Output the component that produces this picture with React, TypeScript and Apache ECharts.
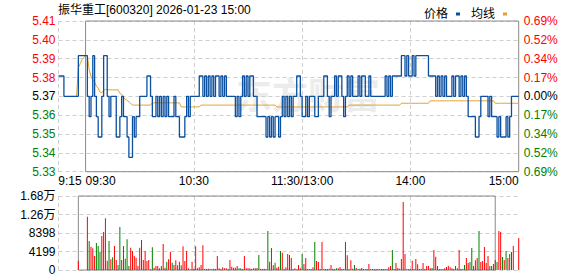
import React, { useEffect, useRef } from 'react';
import * as echarts from 'echarts';

const TITLE = '振华重工[600320] 2026-01-23 15:00';
const WATERMARK = '东方财富';
const PRE_CLOSE = 5.37;
const LIMIT_PCT = 0.0069;
const PRICE_MIN = PRE_CLOSE * (1 - LIMIT_PCT);
const PRICE_MAX = PRE_CLOSE * (1 + LIMIT_PCT);

const priceTickLabels = ['5.33', '5.34', '5.35', '5.36', '5.37', '5.38', '5.39', '5.40', '5.41'];
const pctTickLabels = ['0.69%', '0.52%', '0.34%', '0.17%', '0.00%', '0.17%', '0.34%', '0.52%', '0.69%'];
const VOL_MAX = 16796;
const VOL_STEP = 4199;

const xLabelTimes = ['09:15', '09:30', '10:30', '11:30', '14:00', '15:00'];
const xLabelTexts = ['9:15', '09:30', '10:30', '11:30/13:00', '14:00', '15:00'];
const xGridTimes = ['09:15', '10:30', '11:30', '14:00'];

// call auction 09:15 - 09:29
const auctionPrice = [5.38, 5.38, 5.38, 5.37, 5.37, 5.37, 5.37, 5.37, 5.37, 5.37, 5.37, 5.39, 5.39, 5.39, 5.39];
const auctionAvg = [null, null, null, null, null, null, null, null, null, null, 5.37, 5.384, 5.386, 5.388, 5.389];
const auctionVolume = [0, 0, 0, 0, 0, 0, 0, 0, 0, 0, 0, 2118, 0, 0, 0];
const auctionVolumeUp = [1, 1, 1, 1, 1, 1, 1, 1, 1, 1, 1, 1, 1, 1, 1];

// 09:30 - 11:30, 13:01 - 15:00 (241 minutes)
const price = [
  5.39, 5.37, 5.36, 5.37, 5.39, 5.37, 5.36, 5.35, 5.35, 5.37,
  5.39, 5.39, 5.37, 5.36, 5.37, 5.37, 5.37, 5.35, 5.35, 5.36,
  5.37, 5.36, 5.36, 5.35, 5.34, 5.34, 5.36, 5.35, 5.36, 5.36,
  5.37, 5.37, 5.37, 5.37, 5.38, 5.38, 5.37, 5.36, 5.36, 5.37,
  5.36, 5.37, 5.36, 5.37, 5.36, 5.37, 5.36, 5.36, 5.36, 5.37,
  5.36, 5.36, 5.35, 5.35, 5.35, 5.36, 5.37, 5.36, 5.37, 5.37,
  5.37, 5.37, 5.37, 5.38, 5.38, 5.37, 5.38, 5.37, 5.38, 5.37,
  5.38, 5.37, 5.38, 5.38, 5.37, 5.38, 5.37, 5.38, 5.37, 5.37,
  5.37, 5.37, 5.37, 5.36, 5.37, 5.36, 5.37, 5.38, 5.37, 5.38,
  5.37, 5.38, 5.38, 5.37, 5.37, 5.36, 5.36, 5.36, 5.36, 5.36,
  5.35, 5.36, 5.35, 5.36, 5.35, 5.36, 5.36, 5.35, 5.36, 5.37,
  5.36, 5.37, 5.36, 5.37, 5.36, 5.37, 5.37, 5.38, 5.38, 5.37,
  5.36, 5.36, 5.37, 5.36, 5.37, 5.37, 5.37, 5.36, 5.36, 5.37,
  5.37, 5.37, 5.38, 5.38, 5.37, 5.36, 5.37, 5.37, 5.38, 5.37,
  5.38, 5.38, 5.37, 5.36, 5.37, 5.38, 5.37, 5.38, 5.37, 5.37,
  5.37, 5.38, 5.37, 5.38, 5.38, 5.37, 5.37, 5.38, 5.37, 5.37,
  5.37, 5.37, 5.37, 5.37, 5.37, 5.37, 5.38, 5.37, 5.38, 5.37,
  5.38, 5.38, 5.38, 5.38, 5.38, 5.39, 5.39, 5.38, 5.39, 5.38,
  5.38, 5.39, 5.38, 5.39, 5.39, 5.39, 5.39, 5.39, 5.39, 5.39,
  5.38, 5.38, 5.38, 5.38, 5.37, 5.38, 5.37, 5.38, 5.37, 5.38,
  5.37, 5.37, 5.37, 5.38, 5.37, 5.38, 5.38, 5.37, 5.38, 5.37,
  5.38, 5.37, 5.36, 5.36, 5.36, 5.36, 5.35, 5.35, 5.36, 5.37,
  5.37, 5.37, 5.37, 5.36, 5.37, 5.36, 5.36, 5.36, 5.35, 5.36,
  5.35, 5.35, 5.35, 5.36, 5.35, 5.36, 5.37, 5.37, 5.37, 5.37,
  5.37,
];

const avgPrice = [
  5.39, 5.39, 5.383, 5.38, 5.378, 5.377, 5.375, 5.374, 5.372, 5.3718,
  5.373, 5.3734, 5.3732, 5.3732, 5.3732, 5.3732, 5.3732, 5.3732, 5.3732, 5.3715,
  5.371, 5.3695, 5.3685, 5.368, 5.3674, 5.3666, 5.3657, 5.3657, 5.3657, 5.3657,
  5.3657, 5.3657, 5.3657, 5.3657, 5.3657, 5.3657, 5.3657, 5.3668, 5.3668, 5.3668,
  5.3668, 5.3668, 5.3668, 5.3668, 5.3668, 5.3668, 5.3668, 5.3668, 5.3668, 5.3668,
  5.3668, 5.3668, 5.3668, 5.3648, 5.3648, 5.3648, 5.3648, 5.3648, 5.3648, 5.3648,
  5.3648, 5.3648, 5.3648, 5.3648, 5.3657, 5.3657, 5.3657, 5.3657, 5.3657, 5.3657,
  5.3657, 5.3657, 5.3657, 5.3657, 5.3657, 5.3657, 5.3657, 5.3657, 5.3657, 5.3657,
  5.3657, 5.3657, 5.3657, 5.3657, 5.3657, 5.3657, 5.3657, 5.3657, 5.3657, 5.3657,
  5.3657, 5.3657, 5.3657, 5.3657, 5.3657, 5.3657, 5.3657, 5.3657, 5.3657, 5.3657,
  5.3657, 5.3657, 5.3657, 5.3657, 5.3657, 5.3657, 5.3648, 5.3648, 5.3648, 5.3648,
  5.3648, 5.3648, 5.3648, 5.3648, 5.3648, 5.3648, 5.3648, 5.3648, 5.3648, 5.3648,
  5.3648, 5.3648, 5.3648, 5.3648, 5.3648, 5.3648, 5.3648, 5.3648, 5.3648, 5.3648,
  5.3648, 5.3648, 5.3648, 5.3648, 5.3648, 5.3648, 5.3648, 5.3648, 5.3648, 5.3648,
  5.3648, 5.3648, 5.3648, 5.3648, 5.3648, 5.3648, 5.3657, 5.3657, 5.3657, 5.3657,
  5.3657, 5.3657, 5.3657, 5.3657, 5.3657, 5.3657, 5.3657, 5.3657, 5.3657, 5.3657,
  5.3657, 5.3657, 5.3657, 5.3657, 5.3657, 5.3657, 5.3657, 5.3657, 5.3657, 5.3657,
  5.3657, 5.3657, 5.3657, 5.3657, 5.3657, 5.3666, 5.3666, 5.3666, 5.3666, 5.3666,
  5.3666, 5.3666, 5.3666, 5.3666, 5.3666, 5.3666, 5.3666, 5.3666, 5.3666, 5.3666,
  5.3666, 5.3678, 5.3678, 5.3678, 5.3678, 5.3678, 5.3678, 5.3678, 5.3678, 5.3678,
  5.3678, 5.3678, 5.3678, 5.3678, 5.3678, 5.3678, 5.3678, 5.3678, 5.3678, 5.3678,
  5.3678, 5.3678, 5.3678, 5.3678, 5.3678, 5.3678, 5.3678, 5.3678, 5.3678, 5.3678,
  5.3678, 5.3678, 5.3678, 5.3678, 5.3678, 5.3678, 5.3678, 5.3666, 5.3666, 5.3666,
  5.3666, 5.3666, 5.3666, 5.3666, 5.3666, 5.3666, 5.3666, 5.3666, 5.3666, 5.3666,
  5.3666,
];

const volume = [
  0, 12100, 6580, 5300, 4920, 3180, 6130, 5450, 4160, 7720,
  8630, 11730, 2120, 6580, 2420, 2880, 5450, 2270, 1130, 9760,
  2270, 5450, 2570, 6960, 910, 5070, 4310, 3180, 2800, 910,
  5070, 6810, 2270, 4310, 2040, 2270, 150, 5150, 530, 910,
  910, 380, 910, 5900, 530, 1820, 2420, 4090, 1660, 1130,
  2190, 1060, 1890, 1060, 5370, 2040, 4310, 380, 150, 1890,
  300, 5370, 380, 610, 1130, 5600, 230, 230, 300, 230,
  230, 300, 230, 3180, 380, 230, 610, 380, 380, 230,
  2270, 760, 530, 530, 910, 380, 380, 230, 3180, 380,
  380, 380, 230, 380, 380, 450, 3400, 300, 230, 300,
  230, 8850, 1890, 4990, 1060, 1660, 530, 760, 4310, 3930,
  230, 610, 3630, 3400, 2720, 230, 380, 150, 1130, 380,
  3630, 1370, 2720, 230, 230, 230, 610, 6360, 2040, 1820,
  230, 6360, 230, 230, 230, 300, 1130, 300, 230, 380,
  380, 680, 230, 230, 6360, 3330, 230, 2190, 300, 1130,
  450, 230, 300, 450, 230, 230, 230, 1370, 230, 230,
  230, 230, 230, 230, 230, 230, 230, 230, 610, 910,
  4540, 230, 1590, 450, 300, 2500, 15430, 3630, 230, 230,
  230, 2120, 230, 2500, 1290, 230, 300, 1590, 230, 910,
  910, 380, 450, 4540, 3030, 910, 230, 230, 230, 380,
  680, 980, 610, 380, 230, 910, 380, 4540, 230, 230,
  1130, 2720, 1590, 1820, 4990, 910, 2190, 2720, 8850, 1820,
  2040, 5220, 1590, 3180, 910, 910, 1370, 2270, 1820, 8850,
  8630, 2950, 2270, 4310, 2720, 3630, 4090, 5450, 0, 0,
  7260,
];

// 1 = red (up), 0 = green (down)
const volumeUp = [
  1, 1, 0, 1, 1, 1, 0, 0, 0, 1,
  1, 1, 1, 0, 1, 0, 1, 1, 0, 0,
  1, 1, 0, 0, 0, 1, 1, 1, 1, 1,
  1, 1, 1, 1, 1, 1, 0, 0, 1, 1,
  1, 0, 0, 1, 1, 0, 1, 1, 0, 1,
  1, 0, 1, 0, 1, 1, 1, 1, 1, 1,
  1, 1, 1, 1, 1, 1, 1, 1, 1, 1,
  0, 1, 1, 1, 1, 1, 1, 1, 1, 1,
  1, 1, 1, 1, 1, 0, 0, 1, 1, 1,
  1, 1, 1, 1, 1, 1, 0, 1, 1, 1,
  1, 0, 1, 0, 1, 0, 1, 1, 0, 1,
  1, 1, 1, 1, 1, 1, 1, 1, 1, 1,
  0, 1, 1, 0, 0, 1, 1, 0, 1, 1,
  1, 1, 0, 1, 1, 1, 1, 1, 1, 0,
  1, 1, 0, 1, 0, 1, 1, 1, 1, 0,
  1, 1, 1, 0, 1, 1, 1, 1, 0, 1,
  1, 1, 1, 0, 1, 1, 0, 1, 1, 1,
  0, 1, 1, 1, 1, 1, 1, 1, 0, 0,
  1, 1, 0, 1, 1, 1, 1, 1, 1, 1,
  1, 1, 0, 1, 1, 0, 1, 1, 1, 1,
  1, 1, 1, 1, 1, 1, 0, 1, 0, 1,
  0, 1, 1, 0, 0, 1, 1, 1, 0, 1,
  1, 1, 1, 1, 0, 0, 1, 1, 0, 1,
  1, 0, 1, 0, 1, 0, 0, 1, 1, 1,
  1,
];

const pad2 = (n: number) => (n < 10 ? '0' + n : '' + n);
function buildTimes(): string[] {
  const t: string[] = [];
  for (let m = 15; m < 30; m++) t.push('09:' + pad2(m));
  for (let m = 9 * 60 + 30; m <= 11 * 60 + 30; m++) t.push(pad2(Math.floor(m / 60)) + ':' + pad2(m % 60));
  for (let m = 13 * 60 + 1; m <= 15 * 60; m++) t.push(pad2(Math.floor(m / 60)) + ':' + pad2(m % 60));
  return t;
}

const FONT = "'Liberation Sans', 'Noto Sans CJK SC', sans-serif";
const RED = '#ff0000';
const GREEN = '#008000';
const GRID_DASH = { color: '#cfcfcf', width: 1, type: [4, 3] as number[] };
const FRAME = '#8a8a8a';

export default function App() {
  const ref = useRef<HTMLDivElement>(null);

  useEffect(() => {
    if (!ref.current) return;
    const chart = echarts.init(ref.current, null, { renderer: 'svg' });
    const times = buildTimes();
    const fullPrice = [...auctionPrice, ...price];
    const fullAvg = [...auctionAvg, ...avgPrice];
    const fullVol = [...auctionVolume, ...volume];
    const fullUp = [...auctionVolumeUp, ...volumeUp];
    const labelIdx = xLabelTimes.map((t) => times.indexOf(t));
    const gridIdx = xGridTimes.map((t) => times.indexOf(t));

    const xCommon = {
      type: 'category' as const,
      data: times,
      boundaryGap: false,
      axisLine: { show: false },
      axisTick: { show: false },
      splitLine: {
        show: true,
        interval: (index: number) => gridIdx.indexOf(index) >= 0,
        lineStyle: GRID_DASH,
      },
    };

    const option: any = {
      animation: false,
      backgroundColor: '#ffffff',
      textStyle: { fontFamily: FONT },
      graphic: [
        {
          type: 'text',
          left: 58,
          top: 4,
          style: { text: TITLE, fontSize: 12, fill: '#000', fontFamily: FONT },
        },
        {
          type: 'text',
          left: 236,
          top: 78,
          z: -10,
          silent: true,
          style: { text: WATERMARK, fontSize: 36, fontWeight: 'bold', fill: '#ececec', fontFamily: FONT },
        },
      ],
      legend: {
        data: ['价格', '均线'],
        right: 66,
        top: 3,
        icon: 'rect',
        itemWidth: 4,
        itemHeight: 3,
        align: 'right',
        itemGap: 11,
        selectedMode: false,
        textStyle: { fontSize: 12, color: '#000', fontFamily: FONT, padding: [0, 3, 0, 0] },
      },
      grid: [
        { left: 58.5, right: 59.3, top: 21, height: 150.7, outerBoundsMode: 'none', containLabel: false },
        { left: 58.5, right: 59.3, top: 196, height: 74, outerBoundsMode: 'none', containLabel: false },
      ],
      xAxis: [
        {
          ...xCommon,
          gridIndex: 0,
          axisLabel: {
            show: true,
            interval: (index: number) => labelIdx.indexOf(index) >= 0,
            margin: 3,
            fontSize: 12,
            color: '#000',
            fontFamily: FONT,
            formatter: (_v: string, index: number) => {
              const k = labelIdx.indexOf(index);
              if (k < 0) return '';
              const txt = xLabelTexts[k];
              if (k === 0) return '{a|' + txt + '}';
              if (k === 1) return '{b|' + txt + '}';
              if (k === labelIdx.length - 1) return '{c|' + txt + '}';
              return txt;
            },
            rich: {
              a: { padding: [0, 0, 0, 23], fontSize: 12, color: '#000', fontFamily: FONT },
              b: { padding: [0, 0, 0, 30], fontSize: 12, color: '#000', fontFamily: FONT },
              c: { padding: [0, 30, 0, 0], fontSize: 12, color: '#000', fontFamily: FONT },
            },
          },
        },
        {
          ...xCommon,
          gridIndex: 1,
          axisLabel: { show: false },
        },
      ],
      yAxis: [
        {
          gridIndex: 0,
          type: 'value',
          min: PRICE_MIN,
          max: PRICE_MAX,
          show: false,
          splitLine: { show: false },
        },
        {
          gridIndex: 0,
          type: 'value',
          position: 'left',
          min: -4,
          max: 4,
          interval: 1,
          axisLine: { show: false },
          axisTick: { show: false },
          splitLine: { show: true, lineStyle: GRID_DASH },
          axisLabel: {
            margin: 3,
            fontSize: 12,
            fontFamily: FONT,
            formatter: (v: number) => priceTickLabels[Math.round(v) + 4],
            color: (v: any) => {
              const n = Math.round(Number(v));
              return n > 0 ? RED : n < 0 ? GREEN : '#000';
            },
          },
        },
        {
          gridIndex: 0,
          type: 'value',
          position: 'right',
          min: -4,
          max: 4,
          interval: 1,
          axisLine: { show: false },
          axisTick: { show: false },
          splitLine: { show: false },
          axisLabel: {
            margin: 5,
            fontSize: 12,
            fontFamily: FONT,
            formatter: (v: number) => pctTickLabels[Math.round(v) + 4],
            color: (v: any) => {
              const n = Math.round(Number(v));
              return n > 0 ? RED : n < 0 ? GREEN : '#000';
            },
          },
        },
        {
          gridIndex: 1,
          type: 'value',
          min: 0,
          max: VOL_MAX,
          interval: VOL_STEP,
          axisLine: { show: false },
          axisTick: { show: false },
          splitLine: { show: true, lineStyle: GRID_DASH },
          axisLabel: {
            margin: 3,
            fontSize: 12,
            color: '#000',
            fontFamily: FONT,
            formatter: (v: number) => (v >= 10000 ? (v / 10000).toFixed(2) + '万' : String(v)),
          },
        },
      ],
      series: [
        {
          name: '价格',
          type: 'line',
          xAxisIndex: 0,
          yAxisIndex: 0,
          data: fullPrice,
          step: 'end',
          symbol: 'none',
          color: '#0b4f9f',
          lineStyle: { color: '#0b4f9f', width: 1.3 },
          z: 4,
          markArea: {
            silent: true,
            label: { show: false },
            itemStyle: { color: 'rgba(0,0,0,0)', borderColor: FRAME, borderWidth: 1 },
            data: [[{ xAxis: '09:30', yAxis: PRICE_MIN }, { xAxis: '15:00', yAxis: PRICE_MAX }]],
          },
        },
        {
          name: '均线',
          type: 'line',
          xAxisIndex: 0,
          yAxisIndex: 0,
          data: fullAvg,
          symbol: 'none',
          color: '#e3a02c',
          lineStyle: { color: '#e3a02c', width: 1 },
          z: 3,
        },
        {
          name: '成交量',
          type: 'bar',
          xAxisIndex: 1,
          yAxisIndex: 3,
          barWidth: 1,
          data: fullVol.map((v, i) => ({ value: v, itemStyle: { color: fullUp[i] ? RED : GREEN } })),
          markArea: {
            silent: true,
            label: { show: false },
            itemStyle: { color: 'rgba(0,0,0,0)', borderColor: FRAME, borderWidth: 1 },
            data: [[{ xAxis: '09:30', yAxis: 0 }, { xAxis: '15:00', yAxis: VOL_MAX }]],
          },
        },
      ],
    };

    chart.setOption(option);
    return () => chart.dispose();
  }, []);

  return (
    <div
      ref={ref}
      style={{ position: 'fixed', left: 0, top: 0, width: 578, height: 276, background: '#fff' }}
    />
  );
}
